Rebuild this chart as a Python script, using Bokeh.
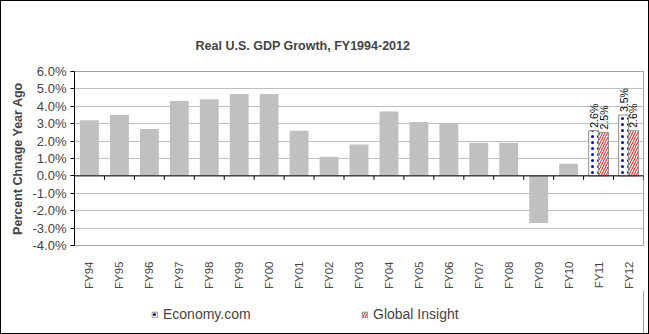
import math
from bokeh.plotting import figure
from bokeh.layouts import column
from bokeh.models import (Range1d, FixedTicker, LinearAxis, PrintfTickFormatter,
                          Legend, LegendItem, ColumnDataSource, Grid, Span)
from bokeh.core.properties import value
from bokeh.embed import file_html
from bokeh.resources import INLINE

categories = ["FY94", "FY95", "FY96", "FY97", "FY98", "FY99", "FY00", "FY01",
              "FY02", "FY03", "FY04", "FY05", "FY06", "FY07", "FY08", "FY09",
              "FY10", "FY11", "FY12"]
actual = [3.2, 3.5, 2.7, 4.3, 4.4, 4.7, 4.7, 2.6, 1.1, 1.8, 3.7, 3.1, 3.0, 1.9,
          1.9, -2.7, 0.7]
forecast_cats = ["FY11", "FY12"]
economy_com = [2.6, 3.5]
global_insight = [2.5, 2.6]
y_ticks = [-4, -3, -2, -1, 0, 1, 2, 3, 4, 5, 6]

FONT = "Liberation Sans"

n = len(categories)
idx = {c: i for i, c in enumerate(categories)}

p = figure(width=647, height=290, x_range=Range1d(0, n), y_range=Range1d(-4, 6),
           x_axis_type=None, y_axis_type=None, output_backend="svg",
           toolbar_location=None, min_border_left=73, min_border_right=5,
           min_border_top=70, min_border_bottom=46)
p.outline_line_color = "#A0A0A0"
p.background_fill_color = "white"

# title
p.title.text = "Real U.S. GDP Growth, FY1994-2012"
p.title.text_font = FONT
p.title.text_font_size = "12.5px"
p.title.text_font_style = "bold"
p.title.align = "left"
p.title.offset = 121
p.title.standoff = 38

# y axis
yax = LinearAxis(ticker=FixedTicker(ticks=y_ticks),
                 formatter=PrintfTickFormatter(format="%.1f%%"))
yax.axis_label = "Percent Chnage Year Ago"
yax.axis_label_text_font = FONT
yax.axis_label_text_font_size = "12.5px"
yax.axis_label_text_font_style = "bold"
yax.axis_label_standoff = 5
yax.major_label_text_font = FONT
yax.major_label_text_font_size = "13px"
yax.major_label_standoff = 4
yax.major_tick_out = 4
yax.major_tick_in = 0
yax.minor_tick_out = 0
yax.axis_line_color = "black"
yax.major_tick_line_color = "black"
p.add_layout(yax, "left")

# gridlines
p.add_layout(Grid(dimension=1, ticker=FixedTicker(ticks=y_ticks),
                  grid_line_color="#C0C0C0"))

# x label axis
xlab = LinearAxis(ticker=FixedTicker(ticks=[i + 0.5 for i in range(n)]))
xlab.major_label_overrides = {i + 0.5: c for i, c in enumerate(categories)}
xlab.major_label_orientation = math.pi / 2
xlab.major_label_text_font = FONT
xlab.major_label_text_font_size = "11.5px"
xlab.major_label_standoff = 10
xlab.axis_line_color = None
xlab.major_tick_line_color = None
xlab.minor_tick_line_color = None
p.add_layout(xlab, "below")

# actual bars
src = ColumnDataSource(dict(x=[i + 0.5 for i in range(len(actual))], top=actual))
p.vbar(x="x", top="top", width=0.63, source=src, fill_color="#C0C0C0",
       line_color=None)

# zero line with category boundary ticks
p.add_layout(Span(location=0, dimension="width", line_color="black", line_width=1))
bnd = list(range(n + 1))
p.segment(x0=bnd, y0=[0] * len(bnd), x1=bnd, y1=[-0.23] * len(bnd),
          line_color="black", line_width=1)

# forecast bars
bw = 0.33
econ_style = dict(fill_color="white", line_color="#909090", line_width=1,
                  hatch_pattern="dot", hatch_color="#0000FF", hatch_scale=6,
                  hatch_weight=1)
glob_style = dict(fill_color="white", line_color="#909090", line_width=1,
                  hatch_pattern="right_diagonal_line", hatch_color="#FF0000",
                  hatch_scale=5, hatch_weight=1)
ex = [idx[c] + 0.5 - bw / 2 for c in forecast_cats]
gx = [idx[c] + 0.5 + bw / 2 for c in forecast_cats]
e_src = ColumnDataSource(dict(x=ex, top=economy_com,
                              lbl=["%.1f%%" % v for v in economy_com]))
g_src = ColumnDataSource(dict(x=gx, top=global_insight,
                              lbl=["%.1f%%" % v for v in global_insight]))
p.vbar(x="x", top="top", width=bw, source=e_src, **econ_style)
p.vbar(x="x", top="top", width=bw, source=g_src, **glob_style)

for s in (e_src, g_src):
    p.text(x="x", y="top", text="lbl", source=s, angle=math.pi / 2,
           text_align="left", text_baseline="middle", y_offset=-3,
           text_font=value(FONT), text_font_size="10.5px", text_color="black")

# legend strip (same data; its frame shows none of the bars)
q = figure(width=647, height=42, x_range=Range1d(-2, -1), y_range=Range1d(0, 1),
           x_axis_type=None, y_axis_type=None, output_backend="svg",
           toolbar_location=None, min_border=0)
q.outline_line_color = None
q.grid.visible = False
er = q.vbar(x="x", top="top", width=bw, source=e_src, **econ_style)
gr = q.vbar(x="x", top="top", width=bw, source=g_src, **glob_style)
legend = Legend(items=[LegendItem(label="Economy.com", renderers=[er]),
                       LegendItem(label="Global Insight", renderers=[gr])],
                location=(77, 11), orientation="horizontal")
legend.glyph_width = 7
legend.glyph_height = 7
legend.label_standoff = 5
legend.label_width = 190
legend.spacing = 8
legend.padding = 0
legend.margin = 0
legend.border_line_color = None
legend.background_fill_alpha = 0
legend.label_text_font = FONT
legend.label_text_font_size = "14px"
q.add_layout(legend, "center")

layout = column(p, q, spacing=0)
layout.styles = {"border": "1px solid black"}

open("out.html", "w").write(file_html(layout, INLINE))
